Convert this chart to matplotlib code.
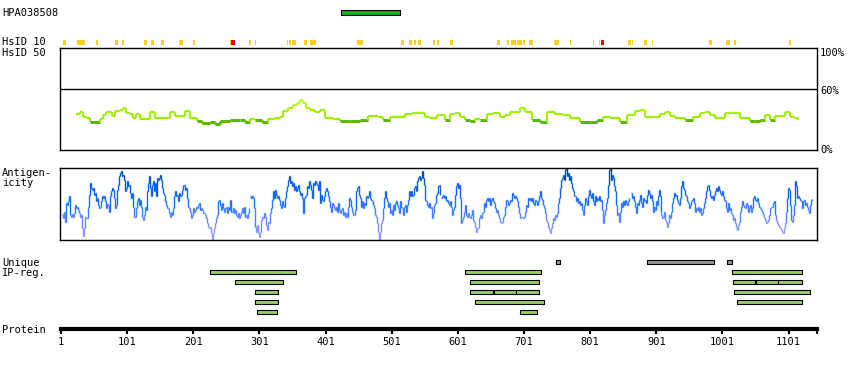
import numpy as np
import matplotlib
matplotlib.use("Agg")
import matplotlib.pyplot as plt
from matplotlib.collections import LineCollection
from matplotlib.colors import LinearSegmentedColormap, Normalize

# ---- data ----
protein_length = 1144
antibody_name = "HPA038508"
antigen_region = (425, 513)

# HsID 10 hits (start, end residue)
hsid10_yellow = [(4, 8), (25, 37), (54, 56), (82, 86), (93, 96), (127, 130), (137, 141),
                 (152, 155), (179, 185), (200, 203), (256, 258), (285, 288), (294, 295),
                 (342, 343), (345, 347), (350, 355), (369, 372), (377, 385), (448, 456),
                 (515, 518), (527, 530), (534, 537), (540, 545), (563, 566), (570, 572),
                 (589, 592), (660, 664), (675, 678), (682, 688), (690, 693), (694, 697),
                 (699, 702), (708, 714), (747, 753), (770, 771), (805, 806), (814, 815),
                 (859, 862), (864, 865), (882, 886), (894, 895), (980, 985), (1006, 1012),
                 (1018, 1021), (1101, 1104)]
hsid10_red = [(258, 263), (818, 821)]

# HsID 50 identity (%)
hsid50_pos = [24, 30, 34, 40, 45, 60, 65, 69, 75, 78, 83, 90, 95, 99, 105, 110, 114, 120,
              130, 136, 143, 158, 166, 173, 181, 188, 196, 207, 214, 226, 234, 241, 257,
              272, 279, 287, 294, 305, 314, 325, 332, 337, 344, 352, 358, 362, 367, 371,
              377, 385, 393, 400, 412, 423, 438, 453, 465, 480, 488, 498, 514, 521, 532,
              544, 551, 559, 569, 582, 589, 597, 604, 612, 619, 627, 634, 645, 654, 665,
              672, 680, 687, 695, 702, 713, 725, 736, 748, 760, 771, 786, 801, 811, 820,
              831, 846, 857, 869, 876, 884, 899, 907, 914, 922, 929, 944, 956, 967, 975,
              982, 990, 1005, 1017, 1027, 1043, 1050, 1058, 1065, 1073, 1080, 1088, 1096,
              1103, 1111, 1115]
hsid50_pct = [35, 37.5, 32.6, 31, 27.5, 30.7, 34.3, 37.5, 37.5, 33.3, 38.2, 39.2, 41, 36.6,
              35.3, 31, 35.3, 30.7, 30.7, 37.5, 31.4, 31.4, 37.5, 33.3, 33.3, 37.9, 31, 28.7,
              26.2, 27.7, 25.5, 28.1, 29.4, 29.4, 27.7, 30.1, 29.4, 27.5, 30.1, 31.7, 32.6,
              38.2, 41.5, 44.1, 45.8, 49, 45.8, 40.9, 39.2, 37.5, 39.2, 31.7, 30.1, 28.1,
              28.1, 29.4, 33.3, 32.1, 29.4, 32.1, 32.1, 35.3, 36.6, 36.6, 32.1, 31, 34.3,
              29.4, 35.3, 36, 32.1, 29.4, 28.1, 30.1, 29.4, 35.3, 36, 32.6, 34.3, 37.5, 37.5,
              40.9, 37.5, 29.4, 27.7, 37.5, 35.3, 34.3, 31, 27.7, 27.7, 29.4, 32.6, 31, 27.7,
              34.3, 38.2, 39.2, 32.1, 32.1, 35.3, 37.5, 33.3, 31, 29.4, 32.1, 36, 37.5, 34.3,
              31, 36, 36, 31, 28.7, 28.7, 29.4, 34.3, 29.4, 33.3, 33.3, 37.5, 32.6, 31, 29.4]

# antigenicity score, read in four stretches
antigen_1_span = (2.5, 285)
antigen_1 = [77, 65, 83, 55, 110, 105, 115, 130, 75, 70, 77, 70, 80, 105, 95, 100, 90, 80, 70, 75,
             35, 13, 35, 70, 65, 100, 135, 170, 155, 150, 155, 135, 140, 115, 125, 105, 95, 100,
             115, 130, 125, 130, 115, 95, 107, 105, 85, 130, 145, 155, 150, 125, 95, 105, 150,
             165, 190, 200, 207, 190, 195, 180, 145, 155, 175, 160, 165, 140, 125, 140, 100, 70,
             95, 115, 125, 105, 120, 100, 70, 60, 75, 100, 90, 145, 170, 190, 155, 130, 165, 175,
             145, 170, 130, 185, 180, 185, 195, 180, 155, 140, 135, 115, 105, 95, 95, 80, 70, 85,
             75, 95, 130, 145, 130, 135, 115, 140, 130, 135, 150, 165, 150, 155, 125, 100, 95, 85,
             65, 75, 95, 85, 90, 100, 95, 105, 110, 90, 95, 90, 80, 80, 75, 65, 50, 40, 35, 40,
             20, 0, 20, 35, 50, 65, 75, 115, 120, 105, 90, 110, 95, 85, 95, 100, 80, 100, 90, 120,
             85, 95, 80, 90, 75, 70, 80, 65, 75, 85, 95, 80, 100, 70, 75, 65, 80, 95]
antigen_2_span = (286.7, 574)
antigen_2 = [130, 125, 130, 125, 95, 40, 25, 45, 20, 10, 25, 60, 70, 65, 80, 70, 45, 30, 55, 50,
             80, 95, 120, 145, 125, 150, 135, 125, 130, 120, 105, 95, 115, 105, 100, 125, 145,
             160, 180, 190, 170, 175, 160, 170, 150, 160, 145, 155, 165, 145, 135, 140, 125, 80,
             125, 130, 135, 160, 155, 175, 165, 150, 125, 170, 165, 175, 170, 165, 150, 175, 110,
             135, 120, 115, 130, 145, 155, 145, 130, 115, 100, 85, 110, 105, 95, 90, 100, 85, 110,
             90, 80, 90, 95, 75, 85, 70, 80, 70, 100, 125, 120, 100, 85, 75, 75, 90, 145, 155,
             160, 135, 125, 100, 115, 95, 110, 105, 130, 125, 130, 145, 125, 120, 115, 105, 95,
             75, 70, 50, 25, 0, 25, 50, 60, 95, 125, 145, 125, 115, 100, 110, 80, 90, 75, 105, 90,
             110, 115, 105, 95, 80, 115, 100, 95, 75, 100, 105, 85, 105, 120, 145, 130, 145, 130,
             135, 155, 160, 145, 175, 185, 190, 180, 185, 205, 185, 165, 120, 115, 105, 100, 110,
             95, 100, 65, 80, 105, 110, 135, 140, 160, 165, 135]
antigen_3_span = (575.4, 859.7)
antigen_3 = [125, 130, 135, 125, 130, 115, 120, 110, 105, 115, 100, 75, 90, 100, 135, 160, 170,
             155, 165, 125, 50, 60, 70, 85, 105, 75, 70, 80, 70, 65, 75, 90, 60, 55, 40, 25, 35,
             35, 65, 75, 65, 80, 85, 110, 100, 120, 125, 115, 125, 105, 120, 125, 115, 110, 95,
             85, 90, 75, 65, 55, 50, 55, 70, 75, 100, 120, 115, 105, 110, 120, 115, 140, 135, 125,
             130, 125, 115, 100, 80, 65, 70, 70, 65, 70, 85, 105, 100, 125, 120, 125, 115, 125,
             110, 105, 120, 115, 105, 115, 130, 145, 125, 120, 105, 95, 80, 60, 55, 40, 30, 20,
             35, 50, 65, 60, 75, 70, 80, 110, 125, 155, 180, 185, 195, 180, 210, 215, 190, 200,
             180, 190, 170, 155, 145, 130, 130, 115, 125, 110, 115, 105, 110, 90, 75, 105, 125,
             115, 105, 130, 150, 135, 125, 140, 115, 105, 130, 115, 125, 120, 130, 115, 120, 90,
             50, 75, 90, 110, 125, 165, 210, 215, 180, 195, 185, 160, 145, 105, 75, 80, 55, 85,
             110, 100, 115, 105, 120, 110, 105, 115, 125]
antigen_4_span = (862.7, 1136.8)
antigen_4 = [140, 125, 130, 115, 100, 80, 110, 105, 120, 135, 110, 100, 125, 115, 120, 110, 135,
             150, 140, 125, 135, 115, 85, 100, 90, 115, 105, 130, 150, 130, 85, 75, 65, 70, 85,
             60, 55, 40, 50, 75, 65, 85, 110, 125, 140, 130, 135, 120, 110, 105, 125, 160, 175,
             155, 150, 135, 130, 115, 110, 95, 105, 115, 120, 125, 110, 85, 95, 90, 100, 85, 95,
             75, 80, 95, 110, 125, 145, 160, 165, 150, 130, 125, 130, 120, 135, 145, 155, 145,
             160, 150, 140, 135, 145, 130, 120, 115, 95, 85, 105, 110, 90, 95, 80, 75, 60, 65, 50,
             40, 30, 45, 55, 85, 100, 115, 105, 100, 95, 110, 105, 85, 95, 105, 85, 95, 125, 130,
             120, 115, 125, 110, 100, 95, 90, 85, 75, 65, 60, 50, 55, 60, 75, 95, 100, 100, 110,
             115, 75, 60, 50, 45, 40, 35, 30, 25, 20, 35, 50, 85, 125, 155, 150, 105, 60, 55, 75,
             105, 135, 175, 160, 125, 130, 125, 120, 115, 95, 115, 120, 105, 110, 100, 90, 80,
             105, 120, 123]

# unique IP regions
unique_gray = [(749, 755), (887, 987), (1008, 1015)]
unique_rows = [
    [(226, 355), (612, 725), (1016, 1120)],
    [(264, 336), (619, 722), (1017, 1049), (1052, 1085), (1085, 1120)],
    [(294, 328), (619, 653), (656, 689), (689, 722), (1018, 1132)],
    [(294, 328), (627, 730), (1023, 1120)],
    [(297, 326), (695, 719)],
]
tick_residues = [1, 101, 201, 301, 401, 501, 601, 701, 801, 901, 1001, 1101]

# ---- figure ----
W, H = 850, 370
fig = plt.figure(figsize=(W / 100, H / 100), dpi=100)
FONT = dict(family="DejaVu Sans Mono", fontsize=7.5, color="black")
XL, XR = 60.34, 817


def px_axes(x0, y0, x1, y1):
    ax = fig.add_axes([x0 / W, 1 - y1 / H, (x1 - x0) / W, (y1 - y0) / H])
    ax.set_xlim(0, protein_length)
    return ax


def spans(regions):
    return [(s, e - s + 1) for s, e in regions]


def step_segments(xs, ys):
    segs, vals = [], []
    for i in range(len(xs) - 1):
        segs.append([(xs[i], ys[i]), (xs[i + 1], ys[i])])
        vals.append(ys[i])
        segs.append([(xs[i + 1], ys[i]), (xs[i + 1], ys[i + 1])])
        vals.append(max(ys[i], ys[i + 1]))
    return segs, np.array(vals)


def label(x, y, s, **kw):
    fig.text(x / W, 1 - y / H, s, va="center", **FONT, **kw)


# antibody antigen bar
ax = px_axes(XL, 10, XR, 15)
ax.axis("off")
ax.set_ylim(0, 1)
ax.broken_barh(spans([antigen_region]), (0, 1), facecolor="#22aa22", edgecolor="black", lw=0.8)
label(2, 12.7, antibody_name)

# HsID 10
ax = px_axes(XL, 40, XR, 45)
ax.axis("off")
ax.set_ylim(0, 1)
ax.broken_barh(spans(hsid10_yellow), (0, 1), facecolor="#ffcc22", edgecolor="none")
ax.broken_barh(spans(hsid10_red), (0, 1), facecolor="#ee0000", edgecolor="none")
label(2, 42.3, "HsID 10")

# HsID 50
ax = px_axes(XL, 48, XR, 150)
ax.set_ylim(0, 100)
ax.set_xticks([])
ax.set_yticks([])
for sp in ax.spines.values():
    sp.set_linewidth(1)
ax.axhline(60, color="black", lw=1)
green = LinearSegmentedColormap.from_list(
    "g", [(0, "#5cb800"), (0.199, "#5cb800"), (0.2, "#99ee00"), (0.6, "#aaf010"), (1, "#ccff33")])
segs, vals = step_segments(hsid50_pos, hsid50_pct)
lc = LineCollection(segs, cmap=green, norm=Normalize(25, 50),
                    linewidths=np.where(vals < 30, 2.2, 1.6), capstyle="butt")
lc.set_array(vals)
ax.add_collection(lc)
label(2, 52.5, "HsID 50")
label(820, 52.5, "100%")
label(820, 90.5, "60%")
label(820, 150, "0%")

# antigenicity
ax = px_axes(XL, 168, XR, 240)
ax.set_ylim(0, 215)
ax.set_xticks([])
ax.set_yticks([])
for sp in ax.spines.values():
    sp.set_linewidth(1)
blue = LinearSegmentedColormap.from_list(
    "b", ["#a8a4ff", "#8c92ff", "#4f86ff", "#1a6cff", "#0a62e8", "#0048a8"])
for part, (r0, r1) in [(antigen_1, antigen_1_span), (antigen_2, antigen_2_span),
                       (antigen_3, antigen_3_span), (antigen_4, antigen_4_span)]:
    res = np.linspace(r0, r1, len(part))
    segs, vals = step_segments(res, part)
    lc = LineCollection(segs, cmap=blue, norm=Normalize(0, 215), linewidths=1.0)
    lc.set_array(vals)
    ax.add_collection(lc)
label(2, 172.7, "Antigen-")
label(2, 183.3, "icity")

# unique IP regions
ax = px_axes(XL, 257.3, XR, 317.3)
ax.axis("off")
ax.set_ylim(5.5, -0.5)
ax.broken_barh(spans(unique_gray), (-0.2, 0.4), facecolor="#999999", edgecolor="black", lw=0.8)
for i, row in enumerate(unique_rows, start=1):
    ax.broken_barh(spans(row), (i - 0.2, 0.4), facecolor="#99cc66", edgecolor="black", lw=0.8)
label(2, 263, "Unique")
label(2, 273.5, "IP-reg.")

# protein axis
ax = px_axes(XL + 0.7, 320, XR, 329)
ax.set_xlim(1, protein_length)
ax.set_yticks([])
for side in ["top", "left", "right"]:
    ax.spines[side].set_visible(False)
ax.spines["bottom"].set_linewidth(3)
ax.set_xticks(tick_residues + [protein_length])
ax.set_xticklabels([str(t) for t in tick_residues] + [""], **FONT)
ax.tick_params(axis="x", direction="out", length=3.5, width=1.5, pad=2.5)
ax.patch.set_alpha(0)
label(2, 329.7, "Protein")

fig.savefig("out.png", dpi=100)
